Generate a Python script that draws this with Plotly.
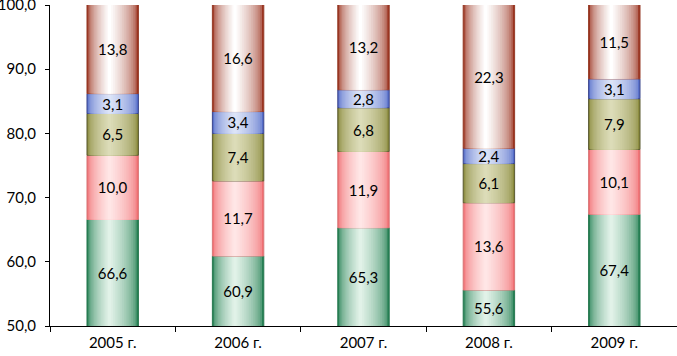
import plotly.graph_objects as go

categories = ["2005 г.", "2006 г.", "2007 г.", "2008 г.", "2009 г."]
s1 = [66.6, 60.9, 65.3, 55.6, 67.4]
s2 = [10.0, 11.7, 11.9, 13.6, 10.1]
s3 = [6.5, 7.4, 6.8, 6.1, 7.9]
s4 = [3.1, 3.4, 2.8, 2.4, 3.1]
s5 = [13.8, 16.6, 13.2, 22.3, 11.5]
y_ticks = [50, 60, 70, 80, 90, 100]

series = [s1, s2, s3, s4, s5]
# (edge colour, centre colour, outline colour)
styles = [
    ((38, 128, 84), (225, 242, 232), (40, 120, 80)),
    ((240, 110, 114), (255, 230, 230), (215, 120, 120)),
    ((136, 136, 58), (220, 220, 184), (90, 90, 50)),
    ((84, 108, 200), (220, 228, 248), (60, 70, 140)),
    ((155, 52, 32), (255, 255, 255), (150, 60, 40)),
]

YMIN, YMAX = 50, 100
BAR_W = 0.41
N = 16

fig = go.Figure()


def mix(a, b, t):
    return "rgb(%d,%d,%d)" % tuple(round(a[i] + (b[i] - a[i]) * t) for i in range(3))


cum = [0.0] * len(categories)
for vals, (edge, centre, outline) in zip(series, styles):
    bases = [max(c, YMIN) for c in cum]
    tops = [c + v for c, v in zip(cum, vals)]
    heights = [t - b for t, b in zip(tops, bases)]
    for k in range(N):
        frac = k / (N - 1)
        t = frac ** 0.5
        w = BAR_W * (1 - k / N)
        shift = -0.06 * BAR_W * frac
        fig.add_trace(go.Bar(
            x=categories, y=heights, base=bases, width=w,
            offset=-w / 2 + shift,
            marker=dict(color=mix(edge, centre, t),
                        line=dict(width=1 if k == 0 else 0, color="rgb(%d,%d,%d)" % outline)),
            hoverinfo="skip", showlegend=False,
        ))
    labels = [("%.1f" % v).replace(".", ",") for v in vals]
    fig.add_trace(go.Bar(
        x=categories, y=heights, base=bases, width=BAR_W,
        marker=dict(color="rgba(0,0,0,0)", line=dict(width=0)),
        text=labels, textposition="inside", insidetextanchor="middle",
        textfont=dict(family="Lato", size=15, color="black"),
        textangle=0, hoverinfo="skip", showlegend=False,
    ))
    cum = tops

fig.update_layout(
    width=677, height=356,
    margin=dict(l=50, r=0, t=5, b=30),
    barmode="overlay",
    paper_bgcolor="white", plot_bgcolor="white",
    separators=", ",
    font=dict(family="Lato", size=15, color="black"),
    uniformtext=dict(minsize=15, mode="show"),
)
fig.update_xaxes(
    type="category", showline=True, linecolor="black", linewidth=1,
    ticks="outside", tickson="boundaries", ticklen=5, tickcolor="black",
    ticklabelstandoff=3,
    showgrid=False, tickfont=dict(family="Lato", size=15), automargin=False,
)
fig.update_yaxes(
    range=[YMIN, YMAX], tickvals=y_ticks, tickformat=".1f",
    showline=True, linecolor="black", linewidth=1,
    ticks="outside", ticklen=4, tickcolor="black",
    ticklabeloverflow="allow", ticklabelstandoff=6,
    showgrid=False, zeroline=False, tickfont=dict(family="Lato", size=15),
    automargin=False,
)

fig.write_html("out.html", config={"displayModeBar": False},
               post_script="document.body.style.margin='0';document.body.style.overflow='hidden';")
